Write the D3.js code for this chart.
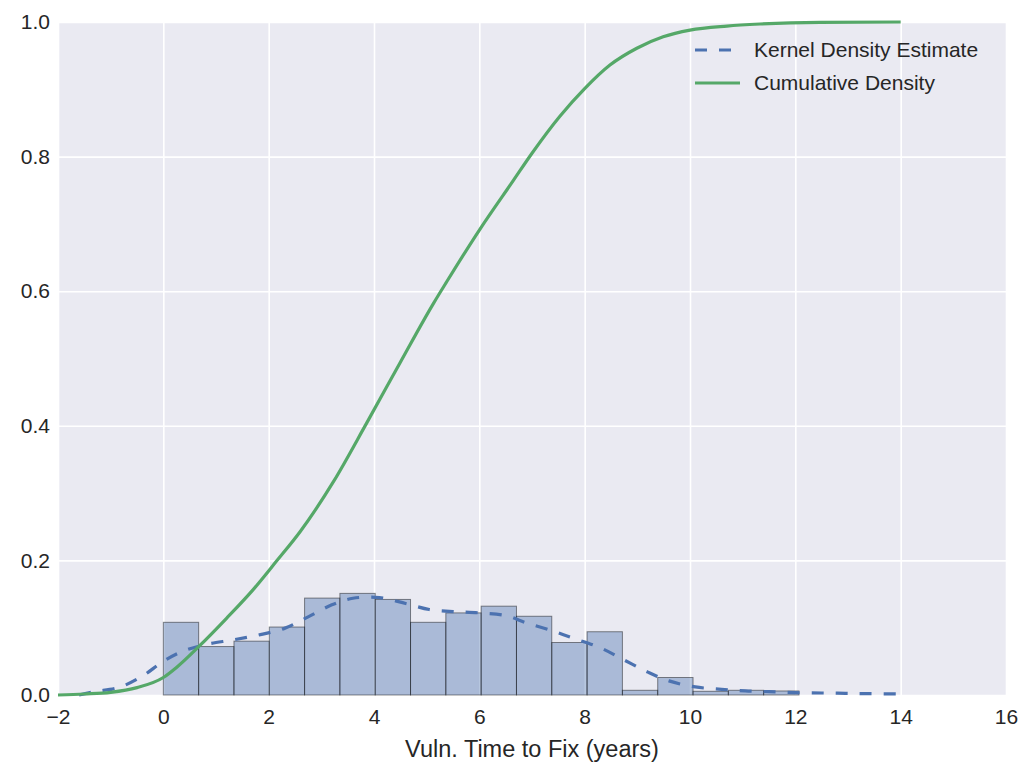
<!DOCTYPE html>
<html>
<head>
<meta charset="utf-8">
<script src="https://cdn.jsdelivr.net/npm/d3@7"></script>
<style>
  body { margin: 0; background: #fff; }
  text { font-family: "Liberation Sans", Arial, sans-serif; fill: #262626; }
</style>
</head>
<body>
<div id="chart"></div>
<script>
const width = 1024, height = 768;
const margin = {top: 22, right: 18, bottom: 73, left: 58};

// histogram (density normalised), bins start at 0
const binWidth = 0.6705;
const binHeights = [0.108, 0.072, 0.080, 0.101, 0.144, 0.151, 0.142, 0.108, 0.122,
                    0.132, 0.117, 0.078, 0.094, 0.007, 0.026, 0.0055, 0.007, 0.006];

// kernel density estimate
const kdeX = [-1.6, -1.3, -0.85, -0.4, 0, 0.37, 0.8, 1.33, 1.8, 2.3, 2.75, 3.2, 3.6, 4.1,
              4.6, 5.05, 5.5, 6.0, 6.5, 6.9, 7.4, 7.8, 8.3, 8.75, 9.2, 9.6, 10.1, 10.6,
              11.05, 11.5, 12.0, 12.5, 12.95, 13.4, 14.0];
const kdeY = [0.0, 0.005, 0.011, 0.028, 0.05, 0.065, 0.075, 0.082, 0.089, 0.099, 0.116,
              0.134, 0.1437, 0.1446, 0.136, 0.127, 0.124, 0.122, 0.118, 0.107, 0.095,
              0.084, 0.070, 0.052, 0.034, 0.021, 0.012, 0.0085, 0.006, 0.005, 0.0035,
              0.003, 0.0025, 0.002, 0.0015];

// cumulative density
const cdfX = [-2, -1.5, -1.0, -0.5, 0, 0.25, 0.66, 1.2, 1.71, 2.15, 2.6, 3.23, 3.86, 4.49,
              5.13, 5.38, 6.01, 6.65, 7.0, 7.53, 8.0, 8.48, 8.99, 9.49, 10.0, 10.7, 11.33,
              12.47, 14.0];
const cdfY = [0.0, 0.0015, 0.004, 0.011, 0.026, 0.041, 0.071, 0.114, 0.157, 0.199, 0.243,
              0.317, 0.404, 0.493, 0.582, 0.614, 0.692, 0.765, 0.805, 0.860, 0.901, 0.936,
              0.961, 0.978, 0.988, 0.994, 0.997, 0.9995, 1.0];

const xTicks = [-2, 0, 2, 4, 6, 8, 10, 12, 14, 16];
const yTicks = [0, 0.2, 0.4, 0.6, 0.8, 1.0];
const legendItems = [
  {label: "Kernel Density Estimate", color: "#4C72B0", dash: "12,12"},
  {label: "Cumulative Density", color: "#55A868", dash: null}
];

const svg = d3.select("#chart").append("svg")
    .attr("width", width)
    .attr("height", height);

const innerW = width - margin.left - margin.right;
const innerH = height - margin.top - margin.bottom;

const g = svg.append("g")
    .attr("transform", `translate(${margin.left},${margin.top})`);

const x = d3.scaleLinear().domain([-2, 16]).range([0, innerW]);
const y = d3.scaleLinear().domain([0, 1]).range([innerH, 0]);

// background
g.append("rect")
    .attr("width", innerW)
    .attr("height", innerH)
    .attr("fill", "#EAEAF2");

// grid
g.append("g")
    .attr("transform", `translate(0,${innerH})`)
    .call(d3.axisBottom(x).tickValues(xTicks).tickSize(-innerH).tickFormat(""))
    .call(a => a.select(".domain").remove())
    .call(a => a.selectAll("line").attr("stroke", "#fff").attr("stroke-width", 1.6));

g.append("g")
    .call(d3.axisLeft(y).tickValues(yTicks).tickSize(-innerW).tickFormat(""))
    .call(a => a.select(".domain").remove())
    .call(a => a.selectAll("line").attr("stroke", "#fff").attr("stroke-width", 1.6));

// tick labels
const fmtX = d => d < 0 ? "\u2212" + Math.abs(d) : String(d);
g.append("g")
    .attr("transform", `translate(0,${innerH})`)
    .call(d3.axisBottom(x).tickValues(xTicks).tickSize(0).tickPadding(14).tickFormat(fmtX))
    .call(a => a.select(".domain").remove())
    .call(a => a.selectAll("text").attr("font-size", 21).attr("fill", "#262626")
        .attr("font-family", "Liberation Sans, Arial, sans-serif"));

g.append("g")
    .call(d3.axisLeft(y).tickValues(yTicks).tickSize(0).tickPadding(8).tickFormat(d3.format(".1f")))
    .call(a => a.select(".domain").remove())
    .call(a => a.selectAll("text").attr("font-size", 21).attr("fill", "#262626")
        .attr("font-family", "Liberation Sans, Arial, sans-serif"));

// x label
svg.append("text")
    .attr("x", margin.left + innerW / 2)
    .attr("y", 757)
    .attr("text-anchor", "middle")
    .attr("font-size", 23.5)
    .text("Vuln. Time to Fix (years)");

// histogram
g.selectAll(".bar")
    .data(binHeights)
    .enter()
    .append("rect")
    .attr("class", "bar")
    .attr("x", (d, i) => x(i * binWidth))
    .attr("width", x(binWidth) - x(0))
    .attr("y", d => y(d))
    .attr("height", d => y(0) - y(d))
    .attr("fill", "#4C72B0")
    .attr("fill-opacity", 0.4)
    .attr("stroke", "#000")
    .attr("stroke-opacity", 0.45)
    .attr("stroke-width", 1);

// kde
const kdeData = kdeX.map((v, i) => [v, kdeY[i]]);
g.append("path")
    .datum(kdeData)
    .attr("fill", "none")
    .attr("stroke", "#4C72B0")
    .attr("stroke-width", 3.2)
    .attr("stroke-dasharray", "12,12")
    .attr("d", d3.line().x(d => x(d[0])).y(d => y(d[1])).curve(d3.curveCatmullRom));

// cdf
const cdfData = cdfX.map((v, i) => [v, cdfY[i]]);
g.append("path")
    .datum(cdfData)
    .attr("fill", "none")
    .attr("stroke", "#55A868")
    .attr("stroke-width", 3.2)
    .attr("d", d3.line().x(d => x(d[0])).y(d => y(d[1])).curve(d3.curveMonotoneX));

// legend
const legend = svg.append("g").attr("transform", "translate(695,50)");
legendItems.forEach((item, i) => {
  const row = legend.append("g").attr("transform", `translate(0,${i * 33})`);
  row.append("line")
      .attr("x1", 0).attr("x2", 45)
      .attr("stroke", item.color)
      .attr("stroke-width", 3.2)
      .attr("stroke-dasharray", item.dash);
  row.append("text")
      .attr("x", 59)
      .attr("dy", "0.35em")
      .attr("font-size", 21)
      .text(item.label);
});
</script>
</body>
</html>
